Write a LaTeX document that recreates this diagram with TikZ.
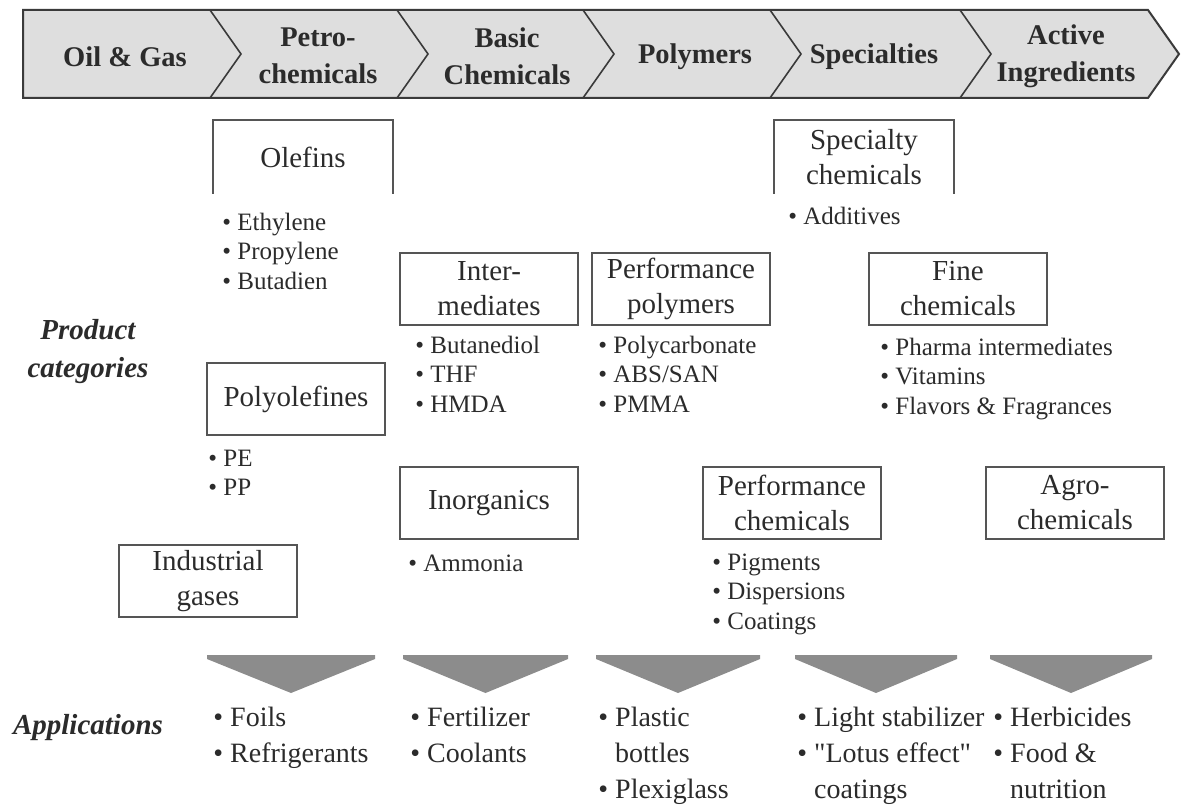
\documentclass[tikz,border=0pt]{standalone}
\usepackage{fontspec}
\setmainfont{Liberation Serif}
% same face without the TeX input mapping, so " stays a straight quote
\newfontfamily\plainserif{Liberation Serif}
\newcommand{\fntstage}{\fontsize{14.25pt}{18.5pt}\selectfont\bfseries}
\newcommand{\fntbox}{\fontsize{14.5pt}{17.5pt}\selectfont}
\newcommand{\fntlist}{\fontsize{12.5pt}{14.75pt}\selectfont}
\newcommand{\fntapp}{\fontsize{14pt}{18pt}\selectfont}
\newcommand{\fntside}{\fontsize{14.5pt}{19pt}\selectfont\bfseries\itshape}
\newcommand{\sq}{{\plainserif"}}
\definecolor{bannerfill}{HTML}{DEDEDE}
\definecolor{linec}{HTML}{3A3A3A}
\definecolor{boxc}{HTML}{555555}
\definecolor{txtc}{HTML}{2B2B2B}
\definecolor{arrowgray}{HTML}{8C8C8C}
\tikzset{
  banner/.style={fill=bannerfill, draw=linec, line width=1pt, line join=miter},
  bannerline/.style={draw=linec, line width=0.8pt},
  stage/.style={font=\fntstage, align=center, text=txtc, inner sep=0pt},
  catbox/.style={draw=boxc, line width=1pt, minimum width=89pt, minimum height=36pt,
                 inner sep=0pt, align=center, font=\fntbox, text=txtc, anchor=north west},
  openbox/.style={catbox, draw=none},
  openedge/.style={draw=boxc, line width=1pt},
  blist/.style={anchor=north west, inner sep=0pt, align=left, font=\fntlist, text=txtc},
  alist/.style={anchor=north west, inner sep=0pt, align=left, font=\fntapp, text=txtc},
  side/.style={font=\fntside, align=center, text=txtc, inner sep=0pt},
  downchev/.style={fill=arrowgray}
}
\begin{document}
\begin{tikzpicture}[x=0.5pt,y=-0.5pt]
\useasboundingbox (0,0) rectangle (1182,807);

% value chain banner
\draw[banner] (23,10) -- (1148,10) -- (1179,54) -- (1148,98) -- (23,98) -- cycle;
\foreach \b in {210,397,583,770,960}
  \draw[bannerline] (\b,10) -- (\b+31,54) -- (\b,98);

\node[stage] (s1) at (125,57) {Oil \& Gas};
\node[stage] (s2) at (318,56) {Petro-\\chemicals};
\node[stage] (s3) at (507,56) {Basic\\Chemicals};
\node[stage] (s4) at (695,57) {Polymers};
\node[stage] (s5) at (874,57) {Specialties};
\node[stage] (s6) at (1066,56) {Active\\Ingredients};

% row labels
\node[side] (lprod) at (88,352) {Product\\categories};
\node[side] (lapp) at (88,728) {Applications};

% product category boxes
\node[openbox] (olefins) at (213,120) {Olefins};
\draw[openedge] (olefins.south west) -- (olefins.north west) -- (olefins.north east) -- (olefins.south east);
\node[openbox] (spec) at (774,120) {Specialty\\chemicals};
\draw[openedge] (spec.south west) -- (spec.north west) -- (spec.north east) -- (spec.south east);

\node[catbox] (inter) at (399,252) {Inter-\\mediates};
\node[catbox] (perfpoly) at (591,252) {Performance\\polymers};
\node[catbox] (fine) at (868,252) {Fine\\chemicals};
\node[catbox] (polyolef) at (206,362) {Polyolefines};
\node[catbox] (inorg) at (399,466) {Inorganics};
\node[catbox] (perfchem) at (702,466) {Performance\\chemicals};
\node[catbox] (agro) at (985,466) {Agro-\\chemicals};
\node[catbox] (indgas) at (118,544) {Industrial\\gases};

% product lists
\node[blist] (lolef) at (222,209) {\strut• Ethylene\\\strut• Propylene\\\strut• Butadien};
\node[blist] (lspec) at (788,203) {\strut• Additives};
\node[blist] (lfine) at (880,334) {\strut• Pharma intermediates\\\strut• Vitamins\\\strut• Flavors \& Fragrances};
\node[blist] (linter) at (415,332) {\strut• Butanediol\\\strut• THF\\\strut• HMDA};
\node[blist] (lpoly) at (598,332) {\strut• Polycarbonate\\\strut• ABS/SAN\\\strut• PMMA};
\node[blist] (lpolyo) at (208,445) {\strut• PE\\\strut• PP};
\node[blist] (linorg) at (408,550) {\strut• Ammonia};
\node[blist] (lperf) at (712,549) {\strut• Pigments\\\strut• Dispersions\\\strut• Coatings};

% downward chevrons
\foreach \l/\r in {207/375,403/568,596/760,795/957,990/1152}
  \fill[downchev] (\l,655) -- (\r,655) -- (\r,659) -- ({(\l+\r)/2},693) -- (\l,659) -- cycle;

% applications
\node[alist] (a1) at (213,701) {\strut• Foils\\\strut• Refrigerants};
\node[alist] (a2) at (410,701) {\strut• Fertilizer\\\strut• Coolants};
\node[alist] (a3) at (598,701) {\strut• Plastic\\\strut\hphantom{• }bottles\\\strut• Plexiglass};
\node[alist] (a4) at (797,701) {\strut• Light stabilizer\\\strut• \sq Lotus effect\sq\\\strut\hphantom{• }coatings};
\node[alist] (a5) at (993,701) {\strut• Herbicides\\\strut• Food \&\\\strut\hphantom{• }nutrition};
\end{tikzpicture}
\end{document}
